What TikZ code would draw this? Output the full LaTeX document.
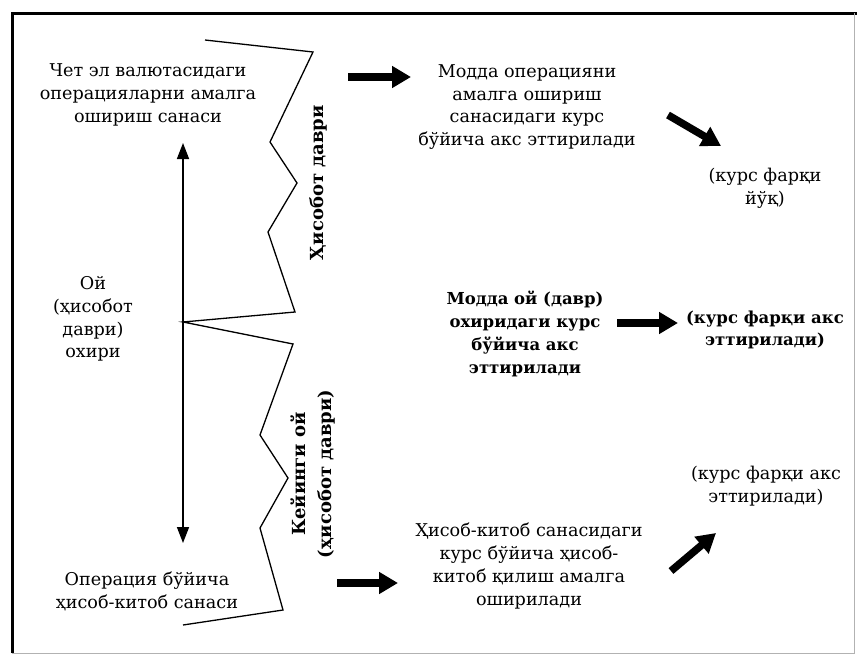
\documentclass[tikz,border=0pt]{standalone}
\usepackage{fontspec}
\setmainfont{DejaVu Serif}
\usetikzlibrary{arrows.meta}
\begin{document}
\begin{tikzpicture}[x=1pt,y=-1pt,
  txt/.style={align=center,inner sep=0pt,font=\fontsize{17.6}{22.8}\selectfont},
  btxt/.style={txt,font=\fontsize{16.5}{22.8}\selectfont\bfseries},
  rtxt/.style={txt,font=\fontsize{18}{26}\selectfont\bfseries},
  blockarrow/.style={line width=7.5pt,-{Triangle[length=19pt,width=21pt]}},
  zig/.style={line width=1.3pt,line join=miter},
  timearrow/.style={line width=1.6pt,{Triangle[length=16pt,width=12pt]}-{Triangle[length=16pt,width=12pt]}}]
\useasboundingbox (0,0) rectangle (857,656);
% frame
\draw[line width=3pt] (12,653) -- (12,13) -- (857,13);
\draw[line width=0.6pt,gray!60] (854,13) -- (854,653) -- (12,653);
% time axis
\coordinate (mid) at (183,322);
\coordinate (top) at (183,143);
\coordinate (bot) at (183,543);
\draw[timearrow] (top) -- (bot);
% zigzag outlines
\draw[zig] (205,40) -- (313,52) -- (270,142) -- (297,183) -- (268,232) -- (295,312) -- (mid)
  -- (293,344) -- (260,435) -- (288,478) -- (260,528) -- (283,610) -- (183,625);
% period labels
\node[rtxt,rotate=90] (rep) at (318,183) {Ҳисобот даври};
\node[rtxt,rotate=90] (next) at (313,474) {Кейинги ой\\(ҳисобот даври)};
% left texts
\node[txt] (opdate) at (148,95) {Чет эл валютасидаги\\операцияларни амалга\\ошириш санаси};
\node[txt] (monthend) at (93,319) {Ой\\(ҳисобот\\даври)\\охири};
\node[txt] (setdate) at (147,591) {Операция бўйича\\ҳисоб-китоб санаси};
% middle texts
\node[txt] (m1) at (527,107) {Модда операцияни\\амалга ошириш\\санасидаги курс\\бўйича акс эттирилади};
\node[btxt] (m2) at (525,334) {Модда ой (давр)\\охиридаги курс\\бўйича акс\\эттирилади};
\node[txt] (m3) at (529,566) {Ҳисоб-китоб санасидаги\\курс бўйича ҳисоб-\\китоб қилиш амалга\\оширилади};
% right texts
\node[txt] (r1) at (765,188) {(курс фарқи\\йўқ)};
\node[btxt] (r2) at (765,330) {(курс фарқи акс\\эттирилади)};
\node[txt] (r3) at (766,486) {(курс фарқи акс\\эттирилади)};
% block arrows
\coordinate (a1s) at (348,77);  \coordinate (a1e) at (411,77);
\coordinate (a2s) at (668,115); \coordinate (a2e) at (721,146);
\coordinate (a3s) at (617,323); \coordinate (a3e) at (678,323);
\coordinate (a4s) at (337,583); \coordinate (a4e) at (398,583);
\coordinate (a5s) at (671,571); \coordinate (a5e) at (716,533);
\draw[blockarrow] (a1s) -- (a1e);
\draw[blockarrow] (a2s) -- (a2e);
\draw[blockarrow] (a3s) -- (a3e);
\draw[blockarrow] (a4s) -- (a4e);
\draw[blockarrow] (a5s) -- (a5e);
\end{tikzpicture}
\end{document}
